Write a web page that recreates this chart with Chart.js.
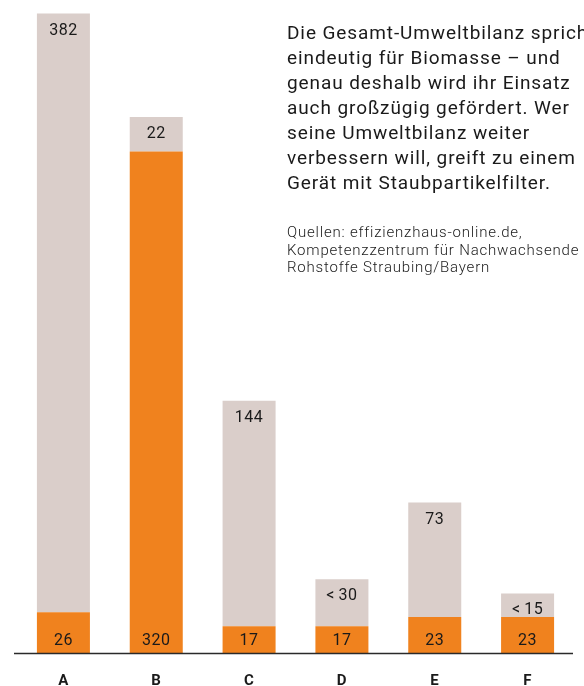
<!DOCTYPE html>
<html>
<head>
<meta charset="utf-8">
<script src="https://cdn.jsdelivr.net/npm/chart.js@4"></script>
<style>
  html, body { margin: 0; padding: 0; background: #fff; overflow: hidden; }
  #wrap { position: relative; width: 584px; height: 686px; }
  #note {
    position: absolute; left: 287px; top: 20px; white-space: nowrap;
    font-family: Roboto, sans-serif; color: #1a1a1a;
  }
  #note .main { font-size: 19px; line-height: 25px; letter-spacing: 0.9px; }
  #note .src { font-size: 15px; line-height: 17.5px; font-weight: 300; letter-spacing: 0.8px; margin-top: 29px; }
</style>
</head>
<body>
<div id="wrap">
  <canvas id="chart" width="584" height="686"></canvas>
  <div id="note">
    <div class="main">Die Gesamt-Umweltbilanz spricht<br>eindeutig für Biomasse – und<br>genau deshalb wird ihr Einsatz<br>auch großzügig gefördert. Wer<br>seine Umweltbilanz weiter<br>verbessern will, greift zu einem<br>Gerät mit Staubpartikelfilter.</div>
    <div class="src">Quellen: effizienzhaus-online.de,<br>Kompetenzzentrum für Nachwachsende<br>Rohstoffe Straubing/Bayern</div>
  </div>
</div>
<script>
var categories = ['A', 'B', 'C', 'D', 'E', 'F'];
var lowerValues = [26, 320, 17, 17, 23, 23];
var upperValues = [382, 22, 144, 30, 73, 15];
var lowerLabels = ['26', '320', '17', '17', '23', '23'];
var upperLabels = ['382', '22', '144', '<\u200930', '73', '<\u200915'];

var ORANGE = 'rgb(240, 130, 30)';
var GREY = 'rgb(218, 206, 202)';

// draws axis line, category letters and the numbers inside the bars
var barText = {
    id: 'barText',
    afterDatasetsDraw: function(chart) {
        var ctx = chart.ctx;
        var x = chart.scales.x;
        var area = chart.chartArea;
        ctx.save();
        ctx.strokeStyle = '#2a2a2a';
        ctx.lineWidth = 1.5;
        ctx.beginPath();
        ctx.moveTo(14, area.bottom + 0.5);
        ctx.lineTo(573, area.bottom + 0.5);
        ctx.stroke();

        ctx.textAlign = 'center';
        ctx.textBaseline = 'middle';
        ctx.fillStyle = '#1a1a1a';
        ctx.font = '16px Roboto, sans-serif';
        ctx.letterSpacing = '0.5px';
        var upperMeta = chart.getDatasetMeta(1);
        categories.forEach(function(c, i) {
            var cx = x.getPixelForValue(i);
            ctx.fillText(lowerLabels[i], cx, area.bottom - 12);
            ctx.fillText(upperLabels[i], cx, upperMeta.data[i].y + 17);
        });
        ctx.font = 'bold 15px Roboto, sans-serif';
        categories.forEach(function(c, i) {
            ctx.fillText(c, x.getPixelForValue(i), 681);
        });
        ctx.restore();
    }
};

var ctx = document.getElementById('chart').getContext('2d');
var chart = new Chart(ctx, {
    type: 'bar',
    data: {
        labels: categories,
        datasets: [{
            data: lowerValues,
            backgroundColor: ORANGE,
            categoryPercentage: 1,
            barPercentage: 0.571
        }, {
            data: upperValues,
            backgroundColor: GREY,
            categoryPercentage: 1,
            barPercentage: 0.571
        }]
    },
    options: {
        responsive: false,
        animation: false,
        layout: {
            padding: { left: 17, right: 10, top: 1, bottom: 33 }
        },
        plugins: {
            legend: { display: false },
            tooltip: { enabled: false }
        },
        scales: {
            x: {
                stacked: true,
                display: false
            },
            y: {
                stacked: true,
                display: false,
                min: 0,
                max: 416
            }
        }
    },
    plugins: [barText]
});
</script>
</body>
</html>
